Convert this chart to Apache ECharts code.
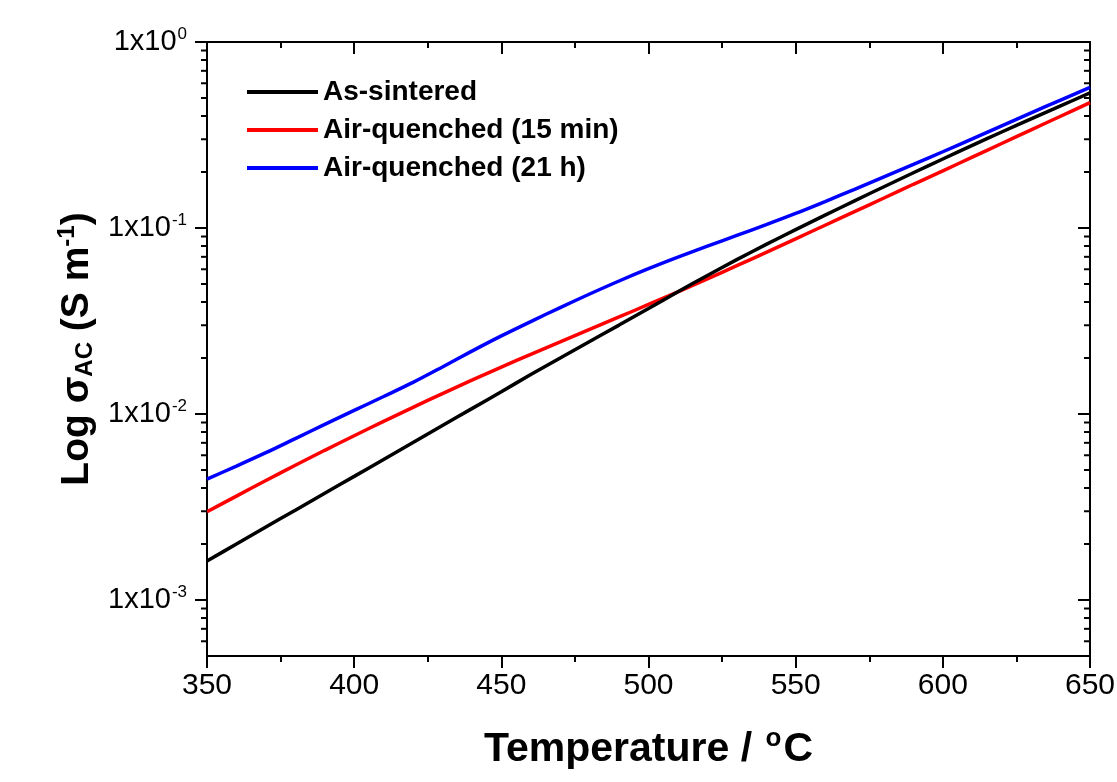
<!DOCTYPE html>
<html>
<head>
<meta charset="utf-8">
<title>AC conductivity vs temperature</title>
<script src="https://cdn.jsdelivr.net/npm/echarts@6/dist/echarts.min.js"></script>
<style>
  html, body { margin: 0; padding: 0; background: #ffffff; }
  #chart { width: 1117px; height: 782px; }
</style>
</head>
<body>
<div id="chart"></div>
<script>
// temperature (°C)
const temps = [350, 360, 370, 380, 390, 400, 410, 420, 430, 440,
  450, 460, 470, 480, 490, 500, 510, 520, 530, 540,
  550, 560, 570, 580, 590, 600, 610, 620, 630, 640, 650];

// sigma AC (S m^-1)
const asSintered = [1.62e-3, 2.00e-3, 2.47e-3, 3.04e-3, 3.75e-3, 4.62e-3, 5.70e-3, 7.03e-3, 8.67e-3, 1.069e-2,
  1.318e-2, 1.629e-2, 2.00e-2, 2.455e-2, 3.006e-2, 3.69e-2, 4.54e-2, 5.559e-2, 6.761e-2, 8.166e-2,
  9.795e-2, 0.1172, 0.1400, 0.1667, 0.1982, 0.2350, 0.2780, 0.3281, 0.3864, 0.4539, 0.5321];

const airQuenched15min = [2.98e-3, 3.62e-3, 4.39e-3, 5.30e-3, 6.38e-3, 7.64e-3, 9.13e-3, 1.086e-2, 1.288e-2, 1.520e-2,
  1.787e-2, 2.094e-2, 2.443e-2, 2.851e-2, 3.324e-2, 3.88e-2, 4.54e-2, 5.33e-2, 6.27e-2, 7.40e-2,
  8.75e-2, 0.1035, 0.1225, 0.145, 0.1718, 0.203, 0.2405, 0.2847, 0.3373, 0.399, 0.472];

const airQuenched21h = [4.467e-3, 5.248e-3, 6.194e-3, 7.379e-3, 8.790e-3, 1.045e-2, 1.242e-2, 1.479e-2, 1.791e-2, 2.178e-2,
  2.630e-2, 3.141e-2, 3.733e-2, 4.416e-2, 5.188e-2, 6.039e-2, 6.966e-2, 7.980e-2, 9.120e-2, 0.1042,
  0.1197, 0.1387, 0.1614, 0.1884, 0.2198, 0.2570, 0.3013, 0.3540, 0.4159, 0.4875, 0.5702];

const seriesNames = ['As-sintered', 'Air-quenched (15 min)', 'Air-quenched (21 h)'];
const seriesColors = ['#000000', '#ff0000', '#0000ff'];

// axis ticks
const xMin = 350, xMax = 650, xStep = 50;
const yMin = 5e-4, yMax = 1;
const yMajorTicks = [1e-3, 1e-2, 1e-1, 1];
const yMinorTicks = [];
[1e-4, 1e-3, 1e-2, 1e-1].forEach(function (d) {
  for (let k = 2; k <= 9; k++) {
    const v = +(k * d).toPrecision(3);
    if (v > yMin && v < yMax) yMinorTicks.push(v);
  }
});
const yAllTicks = yMajorTicks.concat(yMinorTicks);

const FONT = '"Liberation Sans", Arial, Helvetica, sans-serif';

var chartDom = document.getElementById('chart');
var myChart = echarts.init(chartDom, null, { renderer: 'canvas' });

function pairs(ys) {
  return temps.map(function (t, i) { return [t, ys[i]]; });
}

let option = {
  backgroundColor: '#ffffff',
  animation: false,
  grid: {
    left: 207,
    right: 27,
    top: 42,
    bottom: 126,
    containLabel: false,
    outerBoundsMode: 'none'
  },
  legend: {
    data: seriesNames,
    orient: 'vertical',
    left: 242,
    top: 72,
    itemWidth: 71,
    itemHeight: 4,
    itemGap: 8,
    icon: 'rect',
    textStyle: {
      color: '#000',
      fontFamily: FONT,
      fontWeight: 'bold',
      fontSize: 28,
      lineHeight: 30,
      padding: [0, 0, 0, 0]
    }
  },
  xAxis: [
    {
      type: 'value',
      position: 'bottom',
      min: xMin,
      max: xMax,
      interval: xStep,
      name: '{t|Temperature / }{sup|o}{t|C}',
      nameLocation: 'middle',
      nameGap: 70,
      nameTextStyle: {
        rich: {
          t: { fontFamily: FONT, fontWeight: 'bold', fontSize: 41, color: '#000' },
          sup: { fontFamily: FONT, fontWeight: 'bold', fontSize: 26, color: '#000', padding: [0, 2, 22, 2] }
        }
      },
      axisLine: { show: true, onZero: false, lineStyle: { color: '#000', width: 2 } },
      axisTick: { show: true, length: 12, lineStyle: { color: '#000', width: 2 } },
      minorTick: { show: true, splitNumber: 2, length: 6, lineStyle: { color: '#000', width: 2 } },
      axisLabel: { color: '#000', fontFamily: FONT, fontSize: 30, margin: 15 },
      splitLine: { show: false }
    },
    {
      type: 'value',
      position: 'top',
      min: xMin,
      max: xMax,
      interval: xStep,
      axisLine: { show: true, onZero: false, lineStyle: { color: '#000', width: 2 } },
      axisTick: { show: true, inside: true, length: 12, lineStyle: { color: '#000', width: 2 } },
      minorTick: { show: true, splitNumber: 2, length: 6, lineStyle: { color: '#000', width: 2 } },
      axisLabel: { show: false },
      splitLine: { show: false }
    }
  ],
  yAxis: [
    {
      type: 'log',
      logBase: 10,
      position: 'left',
      min: yMin,
      max: yMax,
      name: '{t|Log σ}{sub|AC}{t| (S m}{sup|-1}{t|)}',
      nameLocation: 'middle',
      nameRotate: 90,
      nameGap: 106,
      nameTextStyle: {
        rich: {
          t: { fontFamily: FONT, fontWeight: 'bold', fontSize: 39, color: '#000' },
          sub: { fontFamily: FONT, fontWeight: 'bold', fontSize: 24, color: '#000', padding: [16, 0, 0, 0] },
          sup: { fontFamily: FONT, fontWeight: 'bold', fontSize: 24, color: '#000', padding: [0, 0, 20, 0] }
        }
      },
      axisLine: { show: true, onZero: false, lineStyle: { color: '#000', width: 2 } },
      axisTick: { show: false },
      minorTick: { show: false },
      axisLabel: {
        margin: 20,
        formatter: function (value) {
          const e = Math.round(Math.log10(value));
          if (Math.abs(value - Math.pow(10, e)) / value > 1e-6) return '';
          return '{b|1x10}{sup|' + e + '}';
        },
        rich: {
          b: { fontFamily: FONT, fontSize: 29, color: '#000' },
          sup: { fontFamily: FONT, fontSize: 17, color: '#000', padding: [0, 0, 16, 1] }
        }
      },
      splitLine: { show: false }
    },
    {
      type: 'log',
      logBase: 10,
      position: 'right',
      min: yMin,
      max: yMax,
      axisLine: { show: true, onZero: false, lineStyle: { color: '#000', width: 2 } },
      axisTick: { show: false },
      axisLabel: { show: false },
      splitLine: { show: false }
    }
  ],
  series: [
    {
      name: seriesNames[0],
      type: 'line',
      data: pairs(asSintered),
      showSymbol: false,
      symbol: 'none',
      smooth: 0.3,
      lineStyle: { color: seriesColors[0], width: 3.5 },
      itemStyle: { color: seriesColors[0] },
      z: 4
    },
    {
      name: seriesNames[1],
      type: 'line',
      data: pairs(airQuenched15min),
      showSymbol: false,
      symbol: 'none',
      smooth: 0.3,
      lineStyle: { color: seriesColors[1], width: 3.5 },
      itemStyle: { color: seriesColors[1] },
      z: 3
    },
    {
      name: seriesNames[2],
      type: 'line',
      data: pairs(airQuenched21h),
      showSymbol: false,
      symbol: 'none',
      smooth: 0.3,
      lineStyle: { color: seriesColors[2], width: 3.5 },
      itemStyle: { color: seriesColors[2] },
      z: 5
    },
    {
      // log-axis ticks (major + minor), left outward and right inward
      name: 'yTicks',
      type: 'custom',
      silent: true,
      clip: false,
      data: yAllTicks.map(function (v) { return [xMin, v]; }),
      encode: { x: 0, y: 1 },
      renderItem: function (params, api) {
        const v = api.value(1);
        const len = yMajorTicks.indexOf(v) >= 0 ? 12 : 6;
        const l = api.coord([xMin, v]);
        const r = api.coord([xMax, v]);
        const st = { stroke: '#000', lineWidth: 2 };
        return {
          type: 'group',
          children: [
            { type: 'line', shape: { x1: l[0] - len, y1: l[1], x2: l[0], y2: l[1] }, style: st },
            { type: 'line', shape: { x1: r[0], y1: r[1], x2: r[0] - len, y2: r[1] }, style: st }
          ]
        };
      },
      z: 6
    }
  ]
};

myChart.setOption(option);
</script>
</body>
</html>
